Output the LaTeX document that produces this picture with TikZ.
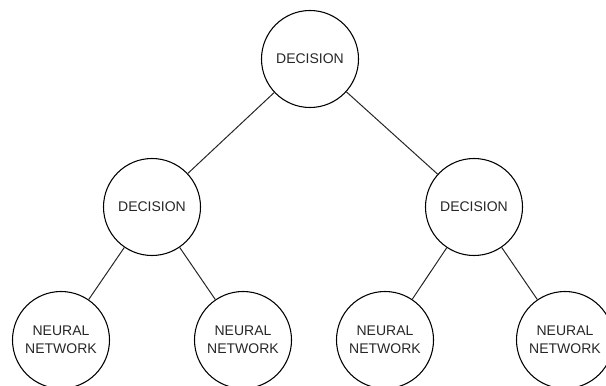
\documentclass[tikz,border=0pt]{standalone}
\usepackage{fontspec}
\setmainfont{Liberation Sans}
\begin{document}
\begin{tikzpicture}[x=0.75pt,y=-0.75pt,
  treenode/.style={circle,draw=black,line width=0.8pt,minimum size=72.75pt,inner sep=0pt,
    align=center,font=\fontsize{10.5}{13.5}\selectfont,text=black!85},
  edge/.style={draw=black!85,line width=0.75pt}]
\clip (0,0) rectangle (606,385);
\node[treenode] (root) at (310,59) {DECISION};
\node[treenode] (l) at (152,207) {DECISION};
\node[treenode] (r) at (474,207) {DECISION};
\node[treenode] (ll) at (61,340) {NEURAL\\NETWORK};
\node[treenode] (lr) at (243,340) {NEURAL\\NETWORK};
\node[treenode] (rl) at (385,340) {NEURAL\\NETWORK};
\node[treenode] (rr) at (565,340) {NEURAL\\NETWORK};
\draw[edge] (root) -- (l);
\draw[edge] (root) -- (r);
\draw[edge] (l) -- (ll);
\draw[edge] (l) -- (lr);
\draw[edge] (r) -- (rl);
\draw[edge] (r) -- (rr);
\end{tikzpicture}
\end{document}
